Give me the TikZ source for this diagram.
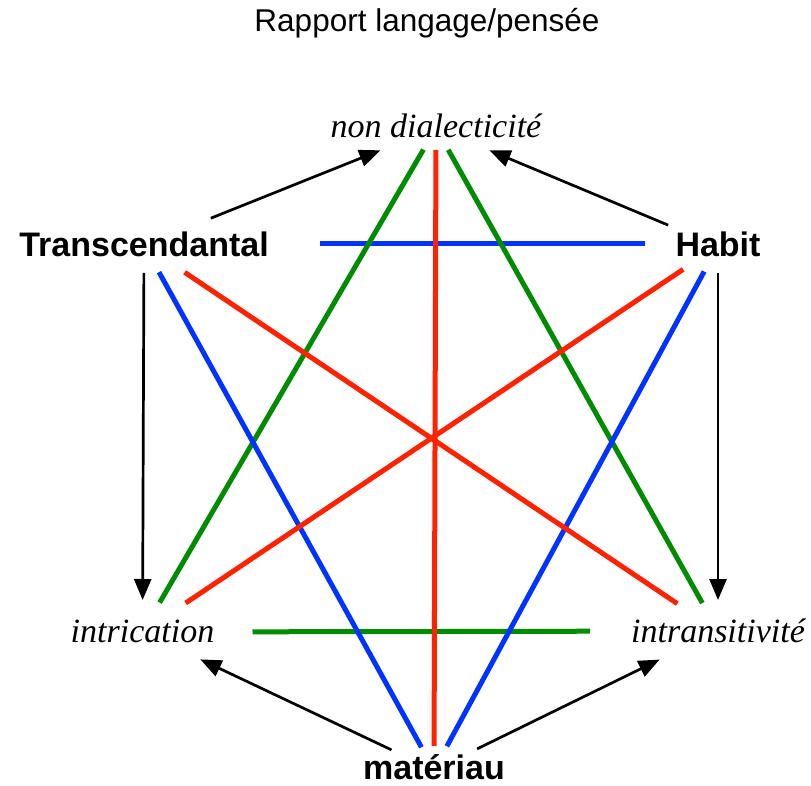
\documentclass[tikz,border=0pt]{standalone}
\usepackage{fontspec}
\setmainfont{Liberation Serif}
\setsansfont{Liberation Sans}
\usetikzlibrary{arrows.meta}
\definecolor{cred}{RGB}{255,34,0}
\definecolor{cgreen}{RGB}{0,140,0}
\definecolor{cblue}{RGB}{0,51,255}
\begin{document}
\begin{tikzpicture}[x=1pt,y=-1pt,
 boldlbl/.style={font=\sffamily\bfseries\fontsize{34}{40}\selectfont, inner sep=0pt, text depth=0pt},
 itallbl/.style={font=\itshape\fontsize{34}{40}\selectfont, inner sep=0pt, text depth=0pt},
 colline/.style={line width=5pt},
 arr/.style={line width=2.7pt, -{Triangle[length=21pt,width=17pt]}}]
\useasboundingbox (0,0) rectangle (811,786);
\node[anchor=base, font=\sffamily\fontsize{31.5}{36}\selectfont, inner sep=0pt] (title) at (427,32) {Rapport langage/pensée};
\node[itallbl, text height=20pt] (nd) at (436,128) {non dialecticité};
\node[boldlbl, text height=24pt] (tr) at (144,245) {Transcendantal};
\node[boldlbl, text height=22pt] (ha) at (718,246) {Habit};
\node[itallbl, text height=20pt] (ic) at (142.5,632) {intrication};
\node[itallbl, text height=22pt] (it) at (718,631) {intransitivité};
\node[boldlbl, text height=18pt] (ma) at (434,770) {matériau};
% horizontals
\draw[colline, cblue] ([xshift=176pt,yshift=1pt]tr.center) -- ([xshift=-73pt,yshift=2pt]ha.center);
\draw[colline, cgreen, shorten <=110pt, shorten >=128pt] (ic.center) -- (it.center);
% green diagonals
\draw[colline, cgreen, shorten <=25pt, shorten >=34pt] (nd.center) -- (ic.center);
\draw[colline, cgreen, shorten <=25pt, shorten >=32pt] (nd.center) -- (it.center);
% blue diagonals
\draw[colline, cblue, shorten <=31pt, shorten >=26pt] (tr.center) -- (ma.center);
\draw[colline, cblue, shorten <=29pt, shorten >=27pt] (ha.center) -- (ma.center);
% red lines
\draw[colline, cred, shorten <=49pt, shorten >=49pt] (tr.center) -- (it.center);
\draw[colline, cred, shorten <=42pt, shorten >=52pt] (ha.center) -- (ic.center);
\draw[colline, cred, shorten <=22pt, shorten >=24pt] (nd.center) -- (ma.center);
% black arrows
\draw[arr, shorten <=72pt, shorten >=60pt] (tr.center) -- (nd.center);
\draw[arr, shorten <=54pt, shorten >=58pt] (ha.center) -- (nd.center);
\draw[arr, shorten <=28pt, shorten >=32pt] (tr.center) -- (ic.center);
\draw[arr, shorten <=27pt, shorten >=31pt] (ha.center) -- (it.center);
\draw[arr, shorten <=47pt, shorten >=64pt] (ma.center) -- (ic.center);
\draw[arr, shorten <=48pt, shorten >=65pt] (ma.center) -- (it.center);
\end{tikzpicture}
\end{document}
